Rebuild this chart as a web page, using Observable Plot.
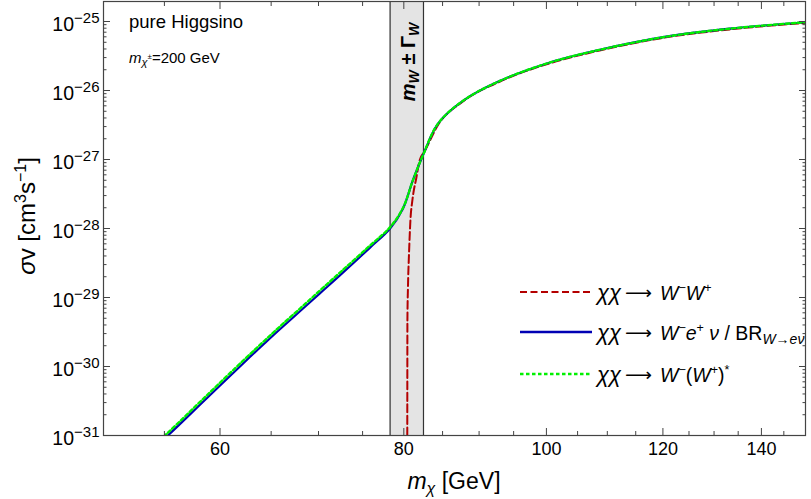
<!DOCTYPE html>
<html><head><meta charset="utf-8">
<script src="https://cdn.jsdelivr.net/npm/d3@7"></script>
<script src="https://cdn.jsdelivr.net/npm/@observablehq/plot@0.6"></script>
<style>body{margin:0;background:#fff}svg{display:block}</style>
</head><body><div id="chart"></div>
<script>
// ---- data ----
const blueMass = [53.78, 55.30, 58.70, 62.39, 64.37, 65.90, 68.00, 70.15, 72.38, 75.85, 78.3, 79.9, 81.15, 82.5, 84.4, 87.75, 93, 100.7, 108.7, 120.6, 133.8, 150];
const blueLog  = [-31.23, -31.0, -30.47, -29.93, -29.66, -29.46, -29.20, -28.94, -28.68, -28.28, -28.00, -27.71, -27.30, -26.92, -26.48, -26.15, -25.86, -25.59, -25.41, -25.22, -25.10, -25.01];
const greenMass = [53.78, 55.30, 58.70, 62.39, 64.37, 65.90, 68.00, 70.15, 72.38, 75.85, 78.3, 79.9, 81.15, 82.5, 84.4, 87.75, 93, 100.7, 108.7, 120.6, 133.8, 150];
const greenLog  = [-31.19, -30.96, -30.43, -29.89, -29.62, -29.42, -29.16, -28.90, -28.64, -28.25, -27.98, -27.70, -27.30, -26.92, -26.48, -26.15, -25.86, -25.59, -25.41, -25.22, -25.10, -25.01];
const redMass = [80.43, 80.44, 80.45, 80.52, 80.65, 80.83, 81.08, 81.59, 82.01, 82.65, 84.4, 87.75, 93, 100.7, 108.7, 120.6, 133.8, 150];
const redLog  = [-31.5, -30.2, -29.33, -28.85, -28.37, -27.88, -27.59, -27.26, -27.01, -26.88, -26.5, -26.16, -25.87, -25.6, -25.42, -25.23, -25.11, -25.02];
const bandRange = [78.3, 82.5];   // m_W ± Γ_W
const bandCenter = 80.4;
const xMajor = [60, 80, 100, 120, 140];
const xMinor = [55, 65, 70, 75, 85, 90, 95, 105, 110, 115, 125, 130, 135, 145];
const yExponents = [-31, -30, -29, -28, -27, -26, -25];
const xDomain = [50, 150];
const yDomain = [1e-31, 1.95e-25];

const yMajor = yExponents.map(e => 10 ** e);
const yMinor = [];
for (const e of yExponents) for (let k = 2; k <= 9; k++) { const v = k * 10 ** e; if (v < yDomain[1]) yMinor.push(v); }
const toRows = (ms, ls) => ms.map((m, i) => ({m, v: 10 ** ls[i]}));

const RED = "#b40000", BLUE = "#0000b4", GREEN = "#00f000";
const TICK = "#444";

const plot = Plot.plot({
  width: 811, height: 499,
  marginLeft: 103, marginRight: 6, marginTop: 1, marginBottom: 64,
  style: {fontFamily: "'Liberation Sans', Arial, sans-serif", background: "#fff", color: "#000"},
  x: {type: "log", domain: xDomain},
  y: {type: "log", domain: yDomain},
  marks: [
    Plot.rect([{x1: bandRange[0], x2: bandRange[1]}], {x1: "x1", x2: "x2", fill: "#e4e4e4"}),
    Plot.ruleX(bandRange, {stroke: "#333", strokeWidth: 1.2}),
    Plot.line(toRows(redMass, redLog), {x: "m", y: "v", stroke: RED, strokeWidth: 2, strokeDasharray: "8,3.5", curve: "monotone-x", clip: true}),
    Plot.line(toRows(blueMass, blueLog), {x: "m", y: "v", stroke: BLUE, strokeWidth: 2.2, curve: "catmull-rom", clip: true}),
    Plot.line(toRows(greenMass, greenLog), {x: "m", y: "v", stroke: GREEN, strokeWidth: 2.4, strokeDasharray: "3.5,2.5", curve: "catmull-rom", clip: true}),
    Plot.frame({stroke: "#444", strokeWidth: 1.2}),
    // inward ticks, all four sides
    Plot.axisX(xMajor, {anchor: "bottom", tickSize: 7, inset: 7, fill: "none", stroke: TICK, label: null}),
    Plot.axisX(xMinor, {anchor: "bottom", tickSize: 4, inset: 4, fill: "none", stroke: TICK, label: null}),
    Plot.axisX(xMajor, {anchor: "top", tickSize: 7, inset: 7, fill: "none", stroke: TICK, label: null}),
    Plot.axisX(xMinor, {anchor: "top", tickSize: 4, inset: 4, fill: "none", stroke: TICK, label: null}),
    Plot.axisY(yMajor, {anchor: "left", tickSize: 7, inset: 7, fill: "none", stroke: TICK, label: null}),
    Plot.axisY(yMinor, {anchor: "left", tickSize: 3.5, inset: 3.5, fill: "none", stroke: TICK, label: null}),
    Plot.axisY(yMajor, {anchor: "right", tickSize: 7, inset: 7, fill: "none", stroke: TICK, label: null}),
    Plot.axisY(yMinor, {anchor: "right", tickSize: 3.5, inset: 3.5, fill: "none", stroke: TICK, label: null}),
    // tick labels
    Plot.axisX(xMajor, {anchor: "bottom", tickSize: 0, tickPadding: 7, fontSize: 18, label: null, tickFormat: d => String(d)}),
    Plot.axisY(yMajor, {anchor: "left", tickSize: 0, tickPadding: 4, dy: 3, fontSize: 19.5, label: null, tickFormat: d => String(Math.round(Math.log10(d)))})
  ]
});

document.getElementById("chart").appendChild(plot);
const svg = d3.select(plot);
const sx = plot.scale("x");

// superscript exponents on y tick labels
svg.selectAll('g[aria-label="y-axis tick label"] text').each(function () {
  const t = d3.select(this);
  const e = Math.abs(parseInt(t.text(), 10));
  t.text("10");
  t.append("tspan").attr("dy", "-0.5em").attr("font-size", "15px").text("\u2212" + e);
});

const ann = svg.append("g").attr("font-family", "'Liberation Sans', Arial, sans-serif").attr("fill", "#000").attr("text-anchor", "start");

// axis titles
const xt = ann.append("text").attr("x", 454).attr("y", 489).attr("text-anchor", "middle").attr("font-size", 23);
xt.append("tspan").attr("font-style", "italic").text("m");
xt.append("tspan").attr("font-style", "italic").attr("font-size", 16).attr("dy", 5).text("\u03C7");
xt.append("tspan").attr("dy", -5).text(" [GeV]");

const yt = ann.append("text").attr("transform", "translate(35,216) rotate(-90)").attr("text-anchor", "middle").attr("font-size", 24);
yt.append("tspan").attr("font-style", "italic").text("\u03C3");
yt.append("tspan").text("v [cm");
yt.append("tspan").attr("font-size", 16).attr("dy", -9).text("3");
yt.append("tspan").attr("dy", 9).text("s");
yt.append("tspan").attr("font-size", 16).attr("dy", -9).text("\u22121");
yt.append("tspan").attr("dy", 9).text("]");

// top-left labels
ann.append("text").attr("x", 129).attr("y", 27.5).attr("font-size", 18.5).text("pure Higgsino");
const mt = ann.append("text").attr("x", 129).attr("y", 63).attr("font-size", 15);
mt.append("tspan").attr("font-style", "italic").text("m");
mt.append("tspan").attr("font-style", "italic").attr("font-size", 11).attr("dy", 3).text("\u03C7");
mt.append("tspan").attr("font-size", 8).attr("dy", -7).text("\u00B1");
mt.append("tspan").attr("dy", 4).text("=200 GeV");

// band label
const bx = sx.apply(bandCenter) + 8;
const bl = ann.append("text").attr("transform", `translate(${bx},62) rotate(-90)`).attr("text-anchor", "middle").attr("font-size", 20).attr("font-weight", "bold");
bl.append("tspan").attr("font-style", "italic").text("m");
bl.append("tspan").attr("font-style", "italic").attr("font-size", 14).attr("dy", 4).text("W");
bl.append("tspan").attr("dy", -4).text(" \u00B1 \u0393");
bl.append("tspan").attr("font-style", "italic").attr("font-size", 14).attr("dy", 4).text("W");

// legend
const legend = [
  {y: 292, stroke: RED, dash: "7,3.5", w: 2},
  {y: 332, stroke: BLUE, dash: null, w: 2.4},
  {y: 374, stroke: GREEN, dash: "3.5,2.5", w: 2.4}
];
legend.forEach((L, i) => {
  const ln = ann.append("line").attr("x1", 520).attr("x2", 592).attr("y1", L.y).attr("y2", L.y)
    .attr("stroke", L.stroke).attr("stroke-width", L.w);
  if (L.dash) ln.attr("stroke-dasharray", L.dash);
  const base = L.y + 7.5;
  ann.append("text").attr("x", 597).attr("y", base).attr("font-size", 22).attr("font-style", "italic").text("\u03C7\u03C7");
  ann.append("text").attr("x", 625).attr("y", base - 1).attr("font-size", 18).attr("font-family", "'DejaVu Sans', sans-serif")
    .attr("textLength", 27).attr("lengthAdjust", "spacingAndGlyphs").text("\u27F6");
  const t = ann.append("text").attr("x", 660).attr("y", base).attr("font-size", 19.5);
  const it = s => t.append("tspan").attr("font-style", "italic").text(s);
  const sup = s => t.append("tspan").attr("font-size", 12.5).attr("dy", -8).text(s);
  if (i === 0) {
    it("W"); sup("\u2212"); t.append("tspan").attr("dy", 8).attr("font-style", "italic").text("W"); sup("+");
  } else if (i === 1) {
    it("W"); sup("\u2212"); t.append("tspan").attr("dy", 8).attr("font-style", "italic").text("e"); sup("+");
    t.append("tspan").attr("dy", 8).attr("font-style", "italic").text(" \u03BD");
    t.append("tspan").text(" / BR");
    t.append("tspan").attr("font-style", "italic").attr("font-size", 14).attr("dy", 4).text("W\u2192e\u03BD");
  } else {
    it("W"); sup("\u2212"); t.append("tspan").attr("dy", 8).text("("); it("W"); sup("+");
    t.append("tspan").attr("dy", 8).text(")"); sup("*");
  }
});
</script>
</body></html>
